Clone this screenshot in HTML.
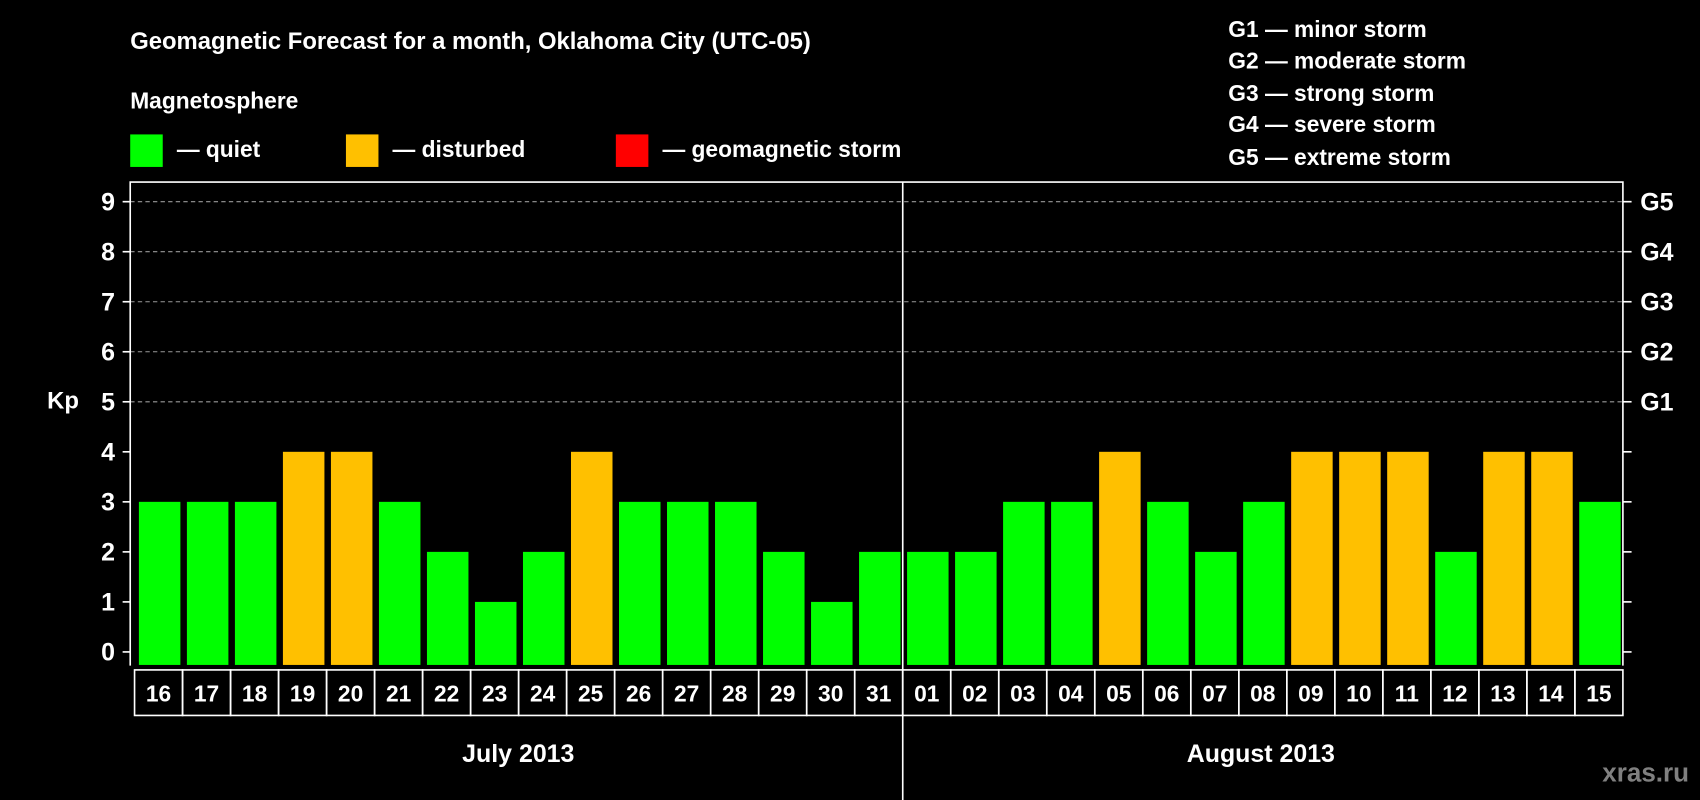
<!DOCTYPE html>
<html><head><meta charset="utf-8"><style>
html,body{margin:0;padding:0;background:#000;width:1700px;height:800px;overflow:hidden}
svg text{font-family:"Liberation Sans",Arial,sans-serif;font-weight:bold;fill:#fff}
</style></head><body>
<svg id="chart" width="1700" height="800" viewBox="0 0 1568 738" xmlns="http://www.w3.org/2000/svg">
<rect width="1568" height="738" fill="#000"/>
<text x="120" y="45" font-size="22">Geomagnetic Forecast for a month, Oklahoma City (UTC-05)</text>
<text x="120" y="100" font-size="21">Magnetosphere</text>
<g><rect x="120" y="124" width="30" height="30" fill="#00ff00"/><text x="163" y="145" font-size="21">— quiet</text></g>
<g><rect x="319" y="124" width="30" height="30" fill="#ffc000"/><text x="362" y="145" font-size="21">— disturbed</text></g>
<g><rect x="568" y="124" width="30" height="30" fill="#ff0000"/><text x="611" y="145" font-size="21">— geomagnetic storm</text></g>
<g font-size="21">
<text x="1133" y="34">G1 — minor storm</text>
<text x="1133" y="63">G2 — moderate storm</text>
<text x="1133" y="93">G3 — strong storm</text>
<text x="1133" y="122">G4 — severe storm</text>
<text x="1133" y="152">G5 — extreme storm</text>
</g>
<text x="58" y="377" font-size="22" text-anchor="middle">Kp</text>
<g id="grid"></g><g id="bars"></g><g id="axes"></g><g id="days"></g>
<text x="478" y="703" font-size="23" text-anchor="middle">July 2013</text>
<text x="1163" y="703" font-size="23" text-anchor="middle">August 2013</text>
<text x="1558" y="721" font-size="24" text-anchor="end" style="fill:#808080">xras.ru</text>
</svg>
<script>
const days=["16","17","18","19","20","21","22","23","24","25","26","27","28","29","30","31","01","02","03","04","05","06","07","08","09","10","11","12","13","14","15"];
const kp=[3,3,3,4,4,3,2,1,2,4,3,3,3,2,1,2,2,2,3,3,4,3,2,3,4,4,4,2,4,4,3];
const yTicks=[0,1,2,3,4,5,6,7,8,9];
const gLabels=["G1","G2","G3","G4","G5"];
const NS="http://www.w3.org/2000/svg";
const L=124,R=1497,T=168,B=614,Y0=601.4,U=46.15;
const cw=(R-L)/days.length;
const y=v=>Y0-v*U;
const x=i=>L+i*cw;
function mk(tag,attrs,parent){const e=document.createElementNS(NS,tag);for(const k in attrs)e.setAttribute(k,attrs[k]);parent.appendChild(e);return e;}
const grid=document.getElementById('grid'),bars=document.getElementById('bars'),axes=document.getElementById('axes'),dg=document.getElementById('days');
yTicks.forEach(v=>{
 if(v>=5){const g=mk('line',{x1:120,x2:R,y1:y(v),y2:y(v),stroke:'#999','stroke-dasharray':'4,3','stroke-width':1},grid);
 
 }
 const t=mk('line',{x1:113,x2:120,y1:y(v),y2:y(v),stroke:'#fff','stroke-width':1.5},axes);
 
 
 const t2=mk('line',{x1:R,x2:R+8,y1:y(v),y2:y(v),stroke:'#fff','stroke-width':1.5},axes);
 
 
 const l=mk('text',{x:106,y:y(v)+8,'font-size':23,'text-anchor':'end'},axes);l.textContent=v;
 
 
});
gLabels.forEach((g,i)=>{const t=mk('text',{x:1513,y:y(i+5)+8,'font-size':23},axes);t.textContent=g;
 
 });
kp.forEach((v,i)=>{
 const b=mk('rect',{x:x(i)+4,y:y(v),width:cw-6,height:Y0+12-y(v),fill:v>=5?'#ff0000':(v>=4?'#ffc000':'#00ff00')},bars);
 
 
 const c=mk('rect',{x:x(i),y:618,width:cw,height:42,fill:'none',stroke:'#fff','stroke-width':1.5},dg);
 
 
 const t=mk('text',{x:x(i)+cw/2,y:647,'font-size':21,'text-anchor':'middle'},dg);t.textContent=days[i];
 
 
});
const fr=mk('path',{d:`M120 ${B} V${T} H${R} V${B}`,fill:'none',stroke:'#fff','stroke-width':1.5},axes);


const sep=mk('line',{x1:x(16),x2:x(16),y1:T,y2:738,stroke:'#fff','stroke-width':1.5},axes);


</script>
</body></html>
